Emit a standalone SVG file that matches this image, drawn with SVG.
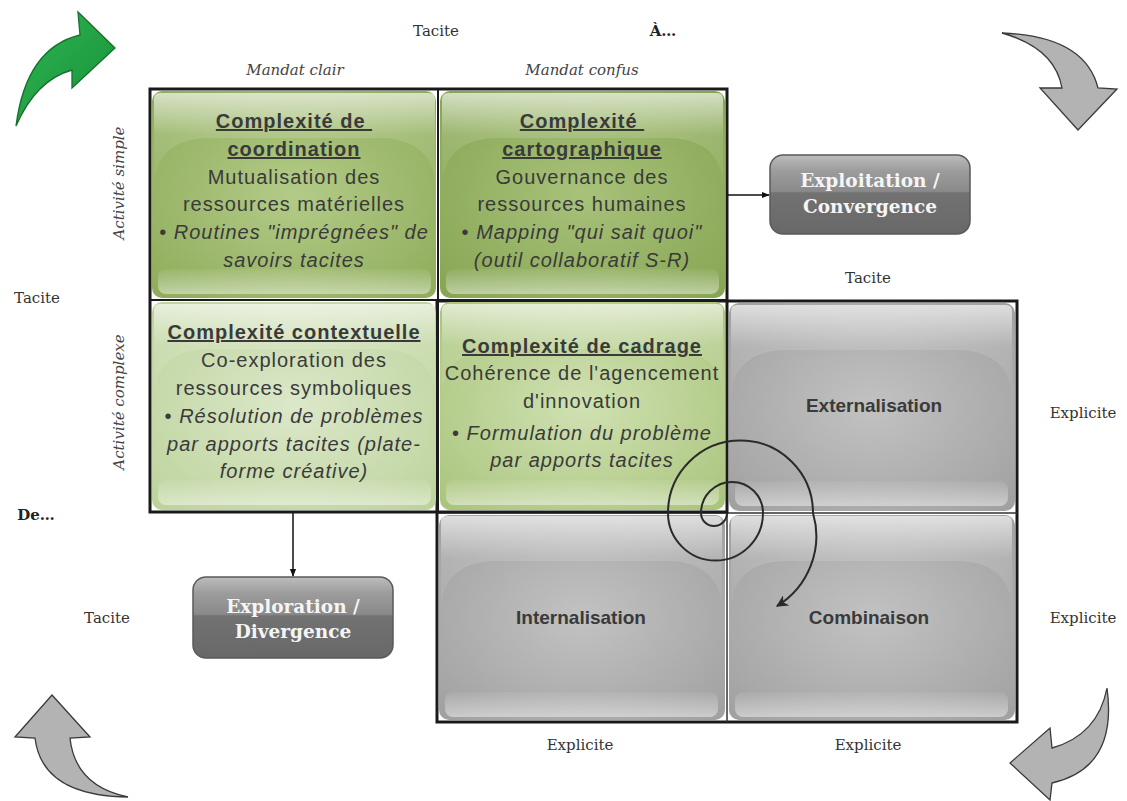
<svg xmlns="http://www.w3.org/2000/svg" xmlns:xlink="http://www.w3.org/1999/xlink" width="1127" height="801" viewBox="0 0 1127 801">
<style>
.lbl{font-family:"DejaVu Serif","Liberation Serif",serif;font-size:15px;fill:#333;text-anchor:middle}
.lbi{font-family:"DejaVu Serif","Liberation Serif",serif;font-size:15px;fill:#444;font-style:italic;text-anchor:middle}
.lbb{font-family:"DejaVu Serif","Liberation Serif",serif;font-size:15px;fill:#222;font-weight:bold;text-anchor:middle}
.ct{font-family:"Liberation Sans",Arial,sans-serif;font-size:20px;letter-spacing:1px;fill:#3a3a3a;text-anchor:middle}
.tt{font-weight:bold;text-decoration:underline}
.it{font-style:italic}
.gl{font-family:"Liberation Sans",Arial,sans-serif;font-size:19px;font-weight:bold;fill:#3a3a3a;text-anchor:middle}
.bt{font-family:"DejaVu Serif","Liberation Serif",serif;font-size:18.5px;font-weight:bold;fill:#f5f5f5;text-anchor:middle}
.grid{fill:none;stroke:#1a1a1a;stroke-width:3}
.div{stroke:#1a1a1a;stroke-width:2}
.divg{stroke:#333;stroke-width:1.5}
.conn{stroke:#111;stroke-width:1.5;fill:none}
.cyc{fill:#b3b3b3;stroke:#3a3a3a;stroke-width:1.3}
</style>
<defs>
<radialGradient id="gTL" cx="50%" cy="50%" r="70%"><stop offset="0" stop-color="#b3cb88"/><stop offset="1" stop-color="#8eac5a"/></radialGradient>
<radialGradient id="gTR" cx="50%" cy="50%" r="70%"><stop offset="0" stop-color="#a8c27a"/><stop offset="1" stop-color="#86a553"/></radialGradient>
<radialGradient id="gBL" cx="50%" cy="50%" r="70%"><stop offset="0" stop-color="#dce8ca"/><stop offset="1" stop-color="#bcd39b"/></radialGradient>
<radialGradient id="gBR" cx="50%" cy="50%" r="70%"><stop offset="0" stop-color="#d0e1b2"/><stop offset="1" stop-color="#a9c47c"/></radialGradient>
<radialGradient id="gGr" cx="50%" cy="50%" r="70%"><stop offset="0" stop-color="#c2c2c2"/><stop offset="1" stop-color="#a0a0a0"/></radialGradient>
<linearGradient id="hlTop" x1="0" y1="0" x2="0" y2="1"><stop offset="0" stop-color="#fff" stop-opacity="0.65"/><stop offset="0.45" stop-color="#fff" stop-opacity="0.14"/><stop offset="1" stop-color="#fff" stop-opacity="0.03"/></linearGradient>
<linearGradient id="hlBot" x1="0" y1="0" x2="0" y2="1"><stop offset="0" stop-color="#fff" stop-opacity="0.05"/><stop offset="1" stop-color="#fff" stop-opacity="0.45"/></linearGradient>
<linearGradient id="gBox" x1="0" y1="0" x2="0" y2="1"><stop offset="0" stop-color="#bdbdbd"/><stop offset="0.2" stop-color="#9c9c9c"/><stop offset="0.46" stop-color="#8a8a8a"/><stop offset="0.48" stop-color="#727272"/><stop offset="1" stop-color="#686868"/></linearGradient>
<linearGradient id="gGreen" x1="0" y1="0" x2="1" y2="1"><stop offset="0" stop-color="#2fb552"/><stop offset="1" stop-color="#169039"/></linearGradient>
<g id="gloss">
<path d="M8,2 H277 Q283,2 283,8 V95 Q281,50 232,47 H53 Q4,50 2,95 V8 Q2,2 8,2 Z" fill="url(#hlTop)"/>
<rect x="6" y="178" width="273" height="25" rx="8" fill="url(#hlBot)"/>
</g>
<marker id="ah" viewBox="0 0 10 10" refX="9" refY="5" markerWidth="8" markerHeight="8" orient="auto" markerUnits="userSpaceOnUse"><path d="M0,1 L10,5 L0,9 Z" fill="#111"/></marker>
<marker id="ahs" viewBox="0 0 10 10" refX="9" refY="5" markerWidth="12" markerHeight="12" orient="auto" markerUnits="userSpaceOnUse"><path d="M0,0 L10,5 L0,10 L3,5 Z" fill="#2a2a2a"/></marker>
</defs>
<rect width="1127" height="801" fill="#fff"/>

<!-- axis labels -->
<g id="labels">
<text class="lbl" x="436" y="36">Tacite</text>
<text class="lbb" x="663" y="36">À…</text>
<text class="lbi" x="295" y="75">Mandat clair</text>
<text class="lbi" x="582" y="75">Mandat confus</text>
<text class="lbi" x="124" y="183" transform="rotate(-90 124 183)">Activité simple</text>
<text class="lbi" x="124" y="402" transform="rotate(-90 124 402)">Activité complexe</text>
<text class="lbl" x="37" y="303">Tacite</text>
<text class="lbb" x="36" y="520">De…</text>
<text class="lbl" x="107" y="623">Tacite</text>
<text class="lbl" x="868" y="283">Tacite</text>
<text class="lbl" x="1083" y="418">Explicite</text>
<text class="lbl" x="1083" y="623">Explicite</text>
<text class="lbl" x="580" y="750">Explicite</text>
<text class="lbl" x="868" y="750">Explicite</text>
</g>

<!-- gray SECI grid -->
<g id="externalisation">
<rect x="729" y="303" width="286" height="208" rx="10" fill="url(#gGr)"/>
<use xlink:href="#gloss" x="729" y="303"/>
<text class="gl" x="874" y="412">Externalisation</text>
</g>
<g id="internalisation">
<rect x="439" y="515" width="286" height="205" rx="10" fill="url(#gGr)"/>
<use xlink:href="#gloss" x="439" y="514"/>
<text class="gl" x="581" y="624">Internalisation</text>
</g>
<g id="combinaison">
<rect x="729" y="515" width="286" height="205" rx="10" fill="url(#gGr)"/>
<use xlink:href="#gloss" x="729" y="514"/>
<text class="gl" x="869" y="624">Combinaison</text>
</g>
<g id="gray-grid">
<rect class="grid" x="437" y="301" width="580" height="421"/>
<line class="divg" x1="727" y1="301" x2="727" y2="722"/>
<line class="divg" x1="437" y1="513" x2="1017" y2="513"/>
</g>

<!-- green grid -->
<g id="coordination">
<rect x="152" y="91" width="284" height="207" rx="10" fill="url(#gTL)"/>
<use xlink:href="#gloss" x="152" y="91"/>
<text class="ct" x="294" y="128"><tspan class="tt">Complexité de&#160;</tspan></text>
<text class="ct" x="294" y="156"><tspan class="tt">coordination</tspan></text>
<text class="ct" x="294" y="184">Mutualisation des</text>
<text class="ct" x="294" y="211">ressources matérielles</text>
<text class="ct" x="294" y="239">• <tspan class="it">Routines "imprégnées" de</tspan></text>
<text class="ct it" x="294" y="267">savoirs tacites</text>
</g>
<g id="cartographique">
<rect x="440" y="91" width="285" height="207" rx="10" fill="url(#gTR)"/>
<use xlink:href="#gloss" x="440" y="91"/>
<text class="ct" x="582" y="128"><tspan class="tt">Complexité&#160;</tspan></text>
<text class="ct" x="582" y="156"><tspan class="tt">cartographique</tspan></text>
<text class="ct" x="582" y="184">Gouvernance des</text>
<text class="ct" x="582" y="211">ressources humaines</text>
<text class="ct" x="582" y="239">• <tspan class="it">Mapping "qui sait quoi"</tspan></text>
<text class="ct it" x="582" y="267">(outil collaboratif S-R)</text>
</g>
<g id="contextuelle">
<rect x="152" y="302" width="284" height="208" rx="10" fill="url(#gBL)"/>
<use xlink:href="#gloss" x="152" y="302"/>
<text class="ct" x="294" y="339"><tspan class="tt">Complexité contextuelle</tspan></text>
<text class="ct" x="294" y="367">Co-exploration des</text>
<text class="ct" x="294" y="395">ressources symboliques</text>
<text class="ct" x="294" y="423">• <tspan class="it">Résolution de problèmes</tspan></text>
<text class="ct it" x="294" y="451">par apports tacites (plate-</text>
<text class="ct it" x="294" y="478">forme créative)</text>
</g>
<g id="cadrage">
<rect x="440" y="302" width="285" height="208" rx="10" fill="url(#gBR)"/>
<use xlink:href="#gloss" x="440" y="302"/>
<text class="ct" x="582" y="353"><tspan class="tt">Complexité de cadrage</tspan></text>
<text class="ct" x="582" y="380">Cohérence de l'agencement</text>
<text class="ct" x="582" y="408">d'innovation</text>
<text class="ct" x="582" y="440">• <tspan class="it">Formulation du problème</tspan></text>
<text class="ct it" x="582" y="467">par apports tacites</text>
</g>
<g id="green-grid">
<rect class="grid" x="150" y="89" width="577" height="423"/>
<line class="div" x1="438" y1="89" x2="438" y2="512"/>
<line class="div" x1="150" y1="300" x2="727" y2="300"/>
</g>

<!-- outcome boxes -->
<g id="exploitation">
<rect x="770" y="155" width="200" height="79" rx="13" fill="url(#gBox)" stroke="#5a5a5a" stroke-width="1.5"/>
<text class="bt" x="870" y="187">Exploitation /</text>
<text class="bt" x="870" y="213">Convergence</text>
</g>
<g id="exploration">
<rect x="193" y="577" width="200" height="81" rx="13" fill="url(#gBox)" stroke="#5a5a5a" stroke-width="1.5"/>
<text class="bt" x="293" y="613">Exploration /</text>
<text class="bt" x="293" y="638">Divergence</text>
</g>

<!-- connectors -->
<g id="connectors">
<line class="conn" x1="728" y1="195" x2="769" y2="195" marker-end="url(#ah)"/>
<line class="conn" x1="293" y1="513" x2="293" y2="576" marker-end="url(#ah)"/>
</g>

<!-- spiral -->
<g id="spiral">
<path d="M727,513 A13,13 0 0 1 701,513 A31,31 0 0 1 763,513 A47.5,47.5 0 0 1 668,513 A72.5,72.5 0 0 1 813,513 A82,82 0 0 1 777,606" fill="none" stroke="#2a2a2a" stroke-width="2" marker-end="url(#ahs)"/>
</g>

<!-- cycle arrows -->
<g id="cycle-arrows">
<path d="M16,126 Q26,48 80,35 L78,12 L115,48 L72,88 L72,70 Q36,80 16,126 Z" fill="url(#gGreen)" stroke="#17702e" stroke-width="1.3"/>
<path class="cyc" d="M1002,33 Q1085,36 1098,88 L1117,89 L1078,130 L1040,88 L1062,88 Q1055,48 1002,33 Z"/>
<path class="cyc" d="M1107,688 Q1118,768 1052,783 L1050,800 L1010,763 L1050,728 L1052,748 Q1098,735 1107,688 Z"/>
<path class="cyc" d="M52,695 L90,737 L70,738 Q75,786 128,797 Q42,796 35,738 L15,737 Z"/>
</g>
</svg>
